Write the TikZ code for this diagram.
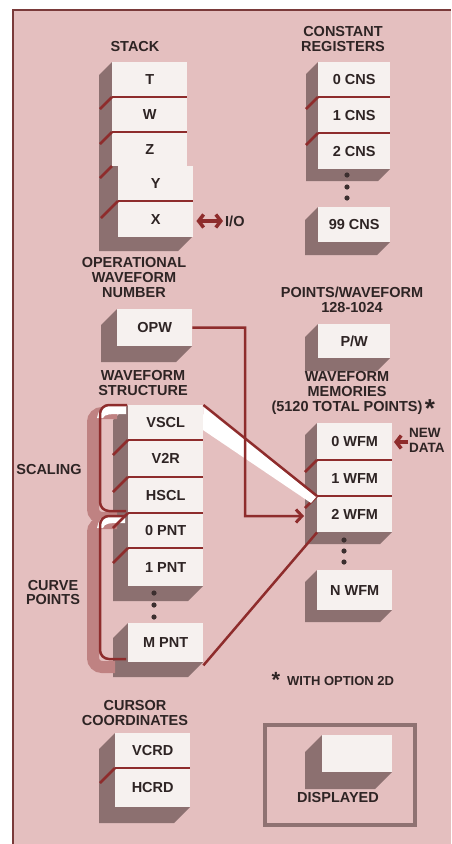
\documentclass[tikz,border=0pt]{standalone}
\usepackage{fontspec}
\setmainfont{Liberation Sans}
\usetikzlibrary{arrows.meta}
\definecolor{bg}{HTML}{E4BFBF}
\definecolor{shd}{HTML}{8C7070}
\definecolor{boxw}{HTML}{F6F1EF}
\definecolor{rl}{HTML}{8E2C2C}
\definecolor{txt}{HTML}{2E2424}
\definecolor{brsh}{HTML}{BF8282}
\definecolor{frm}{HTML}{8F7272}
\definecolor{edge}{HTML}{7A3A3A}
\newcommand\boxshade[5]{\fill[shd] (#1,#2) -- ++(-#5,#5) -- ({#1-#5},{#4+#5}) -- ({#3-#5},{#4+#5}) -- (#3,#4) -- (#1,#4) -- cycle;}
\newcommand\sepline[4]{\draw[sepl] (#1,#2) -- (#3,#2); \draw[sepl] (#1,#2) -- ++(-#4,#4);}
\tikzset{
  reg/.style={fill=boxw, minimum width=75pt, inner sep=0pt, anchor=north west, text=txt,
    font=\bfseries\fontsize{14.5}{15}\selectfont},
  lbl/.style={align=center, text=txt, inner sep=0pt, font=\bfseries\fontsize{14.5}{15}\selectfont},
  sepl/.style={rl, line width=2.5pt},
  conn/.style={rl, line width=2.5pt},
  barb/.style={rl, line width=3.5pt},
  dotm/.style={fill=txt!85!shd},
}
\begin{document}
\begin{tikzpicture}[x=1pt,y=-1pt]
\useasboundingbox (0,0) rectangle (451,844);
\fill[white] (0,0) rectangle (451,844);
\fill[bg] (13,10) rectangle (451,844);
\draw[edge, line width=1.2pt] (13,844) -- (13,10) -- (451,10);

% ---------- STACK
\node[lbl] (stacklbl) at (135,47) {STACK};
\fill[shd] (112,62) -- (99,75) -- (99,251) -- (178,251) -- (192,237) -- (192,166) -- (112,166) -- cycle;
\node[reg, minimum height=35pt] (T) at (112,62) {T};
\node[reg, minimum height=35pt] (W) at (112,97) {W};
\node[reg, minimum height=34pt] (Z) at (112,132) {Z};
\node[reg, minimum height=35pt] (Y) at (118,166) {Y};
\node[reg, minimum height=36pt] (X) at (118,201) {X};
\sepline{112}{97}{187}{12}
\sepline{112}{132}{187}{12}
\draw[sepl] (112,166) -- ++(-12,12);
\sepline{118}{201}{193}{17}
\node[lbl, anchor=west] (io) at (225,221) {I/O};
\draw[barb, {Straight Barb[length=5pt,width=13pt]}-{Straight Barb[length=5pt,width=13pt]}] ([xshift=3pt]X.east |- io.west) -- ([xshift=-2pt]io.west);

% ---------- CONSTANT REGISTERS
\node[lbl] (cnslbl) at (343,39.5) {CONSTANT\\REGISTERS};
\boxshade{318}{62}{390}{169}{12}
\node[reg, minimum width=72pt, minimum height=35pt] (c0) at (318,62) {0 CNS};
\node[reg, minimum width=72pt, minimum height=36pt] (c1) at (318,97) {1 CNS};
\node[reg, minimum width=72pt, minimum height=36pt] (c2) at (318,133) {2 CNS};
\sepline{318}{97}{390}{12}
\sepline{318}{133}{390}{12}
\foreach \yy in {175,187,198} \fill[dotm] (347,\yy) circle (2.6pt);
\boxshade{318}{207}{390}{242}{13}
\node[reg, minimum width=72pt, minimum height=35pt] (c99) at (318,207) {99 CNS};

% ---------- OPW
\node[lbl] (opwlbl) at (134,278) {OPERATIONAL\\WAVEFORM\\NUMBER};
\boxshade{117}{309}{192}{346}{16}
\node[reg, minimum height=37pt] (opw) at (117,309) {OPW};

% ---------- P/W
\node[lbl] (pwlbl) at (352,299.5) {POINTS/WAVEFORM\\128-1024};
\boxshade{318}{324}{390}{358}{13}
\node[reg, minimum width=72pt, minimum height=34pt] (pw) at (318,324) {P/W};

% ---------- WAVEFORM MEMORIES
\node[lbl] (wfmlbl) at (347,393) {WAVEFORM\\MEMORIES\\(5120 TOTAL POINTS)};
\node[text=txt, inner sep=0pt, font=\bfseries\fontsize{26}{26}\selectfont] (star1) at (430,409) {*};
\boxshade{317}{423}{392}{532}{12}
\node[reg, minimum height=37pt] (w0) at (317,423) {0 WFM};
\node[reg, minimum height=36pt] (w1) at (317,460) {1 WFM};
\node[reg, minimum height=36pt] (w2) at (317,496) {2 WFM};
\sepline{317}{460}{392}{12}
\sepline{317}{496}{392}{12}
\foreach \yy in {540,551,562} \fill[dotm] (344,\yy) circle (2.6pt);
\boxshade{317}{570}{392}{610}{12}
\node[reg, minimum height=40pt] (wn) at (317,570) {N WFM};
\node[lbl, align=left, anchor=west, font=\bfseries\fontsize{13.5}{15}\selectfont] (nd) at (409,440) {NEW\\DATA};
\draw[barb, -{Straight Barb[length=5pt,width=13pt]}] ([xshift=-1pt]nd.west |- 0,442) -- (394,442);

% ---------- WAVEFORM STRUCTURE
\node[lbl] (wfslbl) at (143,383) {WAVEFORM\\STRUCTURE};
\boxshade{128}{405}{203}{586}{15}
\boxshade{128}{623}{203}{662}{15}
% braces (3D)
\begin{scope}[shift={(-7,7)}]
\draw[brsh, line width=12pt, rounded corners=9pt] (124,406) -- (100,406) -- (100,511) -- (124,511);
\draw[brsh, line width=12pt, rounded corners=9pt] (124,516) -- (100,516) -- (100,660) -- (122,660);
\end{scope}
\fill[white] (126,406) -- (108,406) .. controls (101,406) and (99,410) .. (97,418) -- (103,418) .. controls (105,414) and (108,414) .. (126,414) -- cycle;
\fill[white] (125,516) -- (108,516) .. controls (101,516) and (99,520) .. (97,528) -- (103,528) .. controls (105,523) and (108,523) .. (125,523) -- cycle;
\draw[rl, line width=2.5pt, rounded corners=9pt] (127,405) -- (100,405) -- (100,511) -- (126,511);
\draw[rl, line width=2.5pt, rounded corners=9pt] (126,516) -- (100,516) -- (100,659) -- (126,659);
\node[reg, minimum height=35pt] (vscl) at (128,405) {VSCL};
\node[reg, minimum height=37pt] (v2r) at (128,440) {V2R};
\node[reg, minimum height=36pt] (hscl) at (128,477) {HSCL};
\node[reg, minimum height=35pt] (p0) at (128,513) {0 PNT};
\node[reg, minimum height=38pt] (p1) at (128,548) {1 PNT};
\sepline{128}{440}{203}{15}
\sepline{128}{477}{203}{15}
\sepline{128}{513}{203}{15}
\sepline{128}{548}{203}{15}
\foreach \yy in {593,605,617} \fill[dotm] (154,\yy) circle (2.6pt);
\node[reg, minimum height=39pt] (pm) at (128,623) {M PNT};
\node[lbl] (scl) at (49,470) {SCALING};
\node[lbl] (cpt) at (53,592.5) {CURVE\\POINTS};

% mapping band and lines
\fill[white] (vscl.north east) -- (w2.north west) -- (311,503) -- (203,430) -- cycle;
\draw[conn] (vscl.north east) -- (w2.north west);
\draw[conn] ([yshift=-3pt]pm.south east) -- (w2.south west);
\coordinate (in2) at (304,516);
\draw[conn, -{Straight Barb[length=6pt,width=13pt,line width=3pt]}] (opw.east) -- (245,327.5) -- (245,516) -- (in2);

% ---------- OPTION NOTE
\node[text=txt, inner sep=0pt, font=\bfseries\fontsize{22}{22}\selectfont] (star2) at (276,680) {*};
\node[text=txt, inner sep=0pt, anchor=west, font=\bfseries\fontsize{13}{15}\selectfont] (opt) at (287,681) {WITH OPTION 2D};

% ---------- CURSOR COORDINATES
\node[lbl] (curlbl) at (135,712.5) {CURSOR\\COORDINATES};
\boxshade{115}{733}{190}{807}{16}
\node[reg, minimum height=35pt] (vcrd) at (115,733) {VCRD};
\node[reg, minimum height=39pt] (hcrd) at (115,768) {HCRD};
\sepline{115}{768}{190}{15}

% ---------- LEGEND
\draw[frm, line width=3.5pt] (265,725) rectangle (415,825);
\boxshade{322}{735}{392}{772}{17}
\node[reg, minimum width=70pt, minimum height=37pt] (disp) at (322,735) {};
\node[lbl] (displbl) at (338,797) {DISPLAYED};
\end{tikzpicture}
\end{document}
